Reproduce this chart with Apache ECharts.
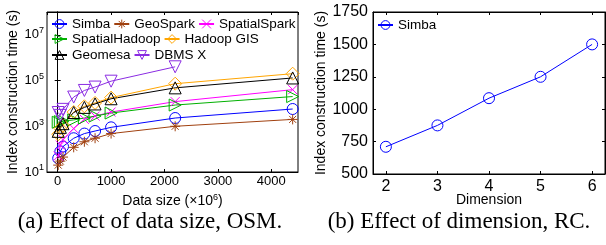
<!DOCTYPE html>
<html>
<head>
<meta charset="utf-8">
<script src="https://cdn.jsdelivr.net/npm/echarts@6/dist/echarts.min.js"></script>
<style>
  html, body { margin: 0; padding: 0; background: #fff; }
  #chart { width: 606px; height: 245px; }
</style>
</head>
<body>
<div id="chart"></div>
<script>
// (a) data size (x10^6) vs index construction time, OSM
var dataSize = [10, 50, 100, 300, 500, 700, 1000, 2200, 4400];
var simba        = [40, 80, 130, 300, 480, 620, 900, 2300, 5700];
var geoSpark     = [20, 30, 45, 120, 210, 300, 480, 1000, 2000];
var spatialSpark = [50, 150, 260, 800, 2000, 2800, 4200, 12000, 40000];
var spatialHadoop= [1500, 1600, 1700, 1900, 2300, 2800, 3800, 8500, 20000];
var hadoopGIS    = [450, 800, 1100, 4200, 7500, 10500, 18000, 73000, 200000];
var geomesa      = [600, 900, 1300, 4000, 6700, 9500, 16000, 48000, 130000];
var dbmsX        = [4000, 3000, 5500, 19000, 37000, 52000, 94000, 400000];

// (b) dimension vs index construction time, RC
var dimension = [2, 3, 4, 5, 6];
var simbaDim  = [710, 875, 1085, 1250, 1500];

var FONT = 'Liberation Sans';
var CLEAR = 'rgba(255,255,255,0)';

var colors = {
    'Simba': '#0000ff', 'GeoSpark': '#a0400f', 'SpatialSpark': '#ff00ff',
    'SpatialHadoop': '#00b000', 'Hadoop GIS': '#ffa500', 'Geomesa': '#000000',
    'DBMS X': '#8a2be2', 'Simba ': '#0000ff'
};

function pairs(xs, ys) {
    var out = [];
    for (var i = 0; i < ys.length; i++) out.push([xs[i], ys[i]]);
    return out;
}

//空心符号 + 1px 线
function mkSeries(name, ys, symbol, size) {
    var color = colors[name];
    return {
        name: name,
        type: 'line',
        xAxisIndex: 0,
        yAxisIndex: 0,
        data: pairs(dataSize, ys),
        symbol: symbol,
        symbolSize: size,
        showAllSymbol: true,
        lineStyle: { color: color, width: 1 },
        itemStyle: { color: CLEAR, borderColor: color, borderWidth: 1 },
        animation: false
    };
}

var asterisk = 'path://M0,5L10,5M5,0L5,10M1.5,1.5L8.5,8.5M8.5,1.5L1.5,8.5';
var cross = 'path://M0,0L10,10M10,0L0,10';
var triRight = 'path://M0,0L10,5L0,10Z';
var triUp = 'path://M5,0L10,9L0,9Z';
var triDown = 'path://M0,0L10,0L5,9Z';

function logLabel(v) {
    var e = Math.round(Math.log(v) / Math.LN10);
    return '10{s|' + e + '}';
}
function plain(v) { return String(v); }

function legendItems(names) {
    return names.map(function (n) {
        return { name: n, itemStyle: { color: CLEAR, borderColor: colors[n], borderWidth: 1 } };
    });
}

function mkLegend(left, top, names) {
    return {
        left: left, top: top,
        data: legendItems(names),
        orient: 'horizontal',
        itemWidth: 15,
        itemHeight: 11,
        itemGap: 3,
        textStyle: { fontFamily: FONT, fontSize: 13.5, color: '#000' },
        padding: 0
    };
}

var option = {
    animation: false,
    grid: [
        { left: 47, right: 308, top: 12, bottom: 73, show: true, borderColor: '#000', borderWidth: 1 },
        { left: 373, right: 1, top: 12, bottom: 71, show: true, borderColor: '#000', borderWidth: 1 }
    ],
    legend: [
        mkLegend(51, 17, ['Simba', 'GeoSpark', 'SpatialSpark']),
        mkLegend(51, 32, ['SpatialHadoop', 'Hadoop GIS']),
        mkLegend(51, 48, ['Geomesa', 'DBMS X']),
        mkLegend(377, 18, ['Simba '])
    ],
    xAxis: [
        {
            gridIndex: 0, type: 'value', min: -200, max: 4500,
            name: 'Data size (\u00d710{s|6})', nameLocation: 'middle', nameGap: 18,
            nameTextStyle: { fontFamily: FONT, fontSize: 14, color: '#000',
                rich: { s: { fontFamily: FONT, fontSize: 9, verticalAlign: 'top', padding: [0, 0, 8, 0] } } },
            axisLine: { lineStyle: { color: '#000' } },
            axisTick: { inside: true, length: 3, lineStyle: { color: '#000' } },
            axisLabel: { fontFamily: FONT, fontSize: 13, color: '#000', margin: 3, showMinLabel: false, showMaxLabel: false, formatter: plain },
            splitLine: { show: false }
        },
        {
            gridIndex: 0, type: 'value', min: -200, max: 4500, position: 'top',
            axisLine: { lineStyle: { color: '#000' } },
            axisTick: { inside: true, length: 3, lineStyle: { color: '#000' } },
            axisLabel: { show: false }, splitLine: { show: false }
        },
        {
            gridIndex: 1, type: 'value', min: 1.75, max: 6.25,
            name: 'Dimension', nameLocation: 'middle', nameGap: 19, nameMoveOverlap: false,
            nameTextStyle: { fontFamily: FONT, fontSize: 14, color: '#000' },
            axisLine: { lineStyle: { color: '#000' } },
            axisTick: { inside: true, length: 3, lineStyle: { color: '#000' } },
            axisLabel: { fontFamily: FONT, fontSize: 16, color: '#000', margin: 5, showMinLabel: false, showMaxLabel: false, formatter: plain },
            splitLine: { show: false }
        },
        {
            gridIndex: 1, type: 'value', min: 1.75, max: 6.25, position: 'top',
            axisLine: { lineStyle: { color: '#000' } },
            axisTick: { inside: true, length: 3, lineStyle: { color: '#000' } },
            axisLabel: { show: false }, splitLine: { show: false }
        }
    ],
    yAxis: [
        {
            gridIndex: 0, type: 'log', logBase: 10, min: 10, max: 1e8, interval: 2,
            name: 'Index construction time (s)', nameLocation: 'middle', nameGap: 27,
            nameTextStyle: { fontFamily: FONT, fontSize: 14, color: '#000' },
            axisLine: { lineStyle: { color: '#000' } },
            axisTick: { inside: true, length: 3, lineStyle: { color: '#000' } },
            axisLabel: {
                fontFamily: FONT, fontSize: 13, color: '#000', margin: 3, showMaxLabel: false,
                formatter: logLabel,
                rich: { s: { fontFamily: FONT, fontSize: 9, verticalAlign: 'top', padding: [0, 0, 8, 0] } }
            },
            splitLine: { show: false }
        },
        {
            gridIndex: 0, type: 'log', logBase: 10, min: 10, max: 1e8, interval: 2, position: 'right',
            axisLine: { lineStyle: { color: '#000' } },
            axisTick: { inside: true, length: 3, lineStyle: { color: '#000' } },
            axisLabel: { show: false }, splitLine: { show: false }
        },
        {
            gridIndex: 1, type: 'value', min: 500, max: 1750, interval: 250,
            name: 'Index construction time (s)', nameLocation: 'middle', nameGap: 38,
            nameTextStyle: { fontFamily: FONT, fontSize: 14, color: '#000' },
            axisLine: { lineStyle: { color: '#000' } },
            axisTick: { inside: true, length: 3, lineStyle: { color: '#000' } },
            axisLabel: { fontFamily: FONT, fontSize: 16, color: '#000', margin: 5, formatter: plain },
            splitLine: { show: false }
        },
        {
            gridIndex: 1, type: 'value', min: 500, max: 1750, interval: 250, position: 'right',
            axisLine: { lineStyle: { color: '#000' } },
            axisTick: { inside: true, length: 3, lineStyle: { color: '#000' } },
            axisLabel: { show: false }, splitLine: { show: false }
        }
    ],
    graphic: [
        { type: 'text', x: 150, y: 222,
          style: { text: '(a) Effect of data size, OSM.', fontFamily: 'Liberation Serif', fontSize: 23, fill: '#000',
                   align: 'center', verticalAlign: 'middle' } },
        { type: 'text', x: 459, y: 222,
          style: { text: '(b) Effect of dimension, RC.', fontFamily: 'Liberation Serif', fontSize: 23, fill: '#000',
                   align: 'center', verticalAlign: 'middle' } }
    ],
    series: [
        mkSeries('Simba', simba, 'circle', 11),
        mkSeries('GeoSpark', geoSpark, asterisk, 10),
        mkSeries('SpatialSpark', spatialSpark, cross, 9),
        mkSeries('SpatialHadoop', spatialHadoop, triRight, 12),
        mkSeries('Hadoop GIS', hadoopGIS, 'diamond', 13),
        mkSeries('Geomesa', geomesa, triUp, 12),
        mkSeries('DBMS X', dbmsX, triDown, 12),
        {
            name: 'Simba ',
            type: 'line',
            xAxisIndex: 2,
            yAxisIndex: 2,
            data: pairs(dimension, simbaDim),
            symbol: 'circle',
            symbolSize: 11,
            lineStyle: { color: '#0000ff', width: 1 },
            itemStyle: { color: CLEAR, borderColor: '#0000ff', borderWidth: 1 },
            animation: false
        }
    ]
};

var myChart = echarts.init(document.getElementById('chart'));
myChart.setOption(option);
</script>
</body>
</html>
